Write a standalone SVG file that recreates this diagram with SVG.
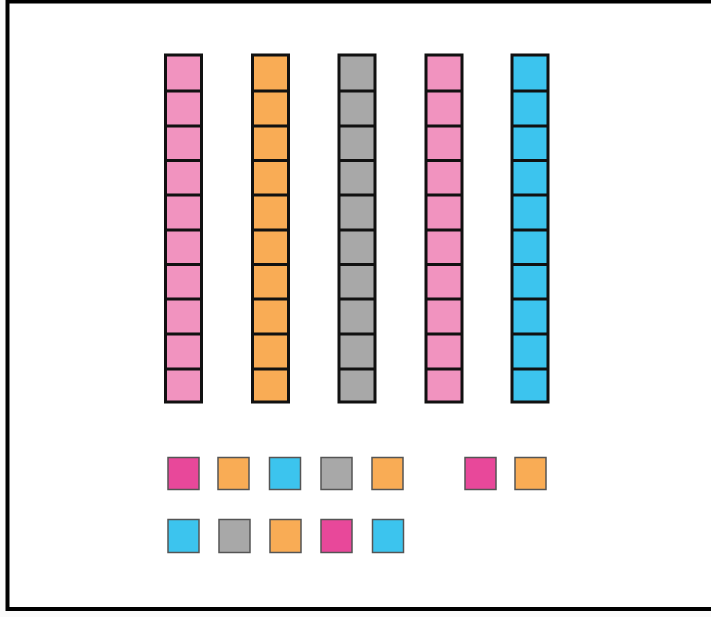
<svg xmlns="http://www.w3.org/2000/svg" width="711" height="617" viewBox="0 0 711 617">
<style>
.col rect{stroke:#111;stroke-width:3}
.sq{stroke:#555;stroke-width:1.5}
.pink{fill:#F193BF}.orange{fill:#F9AC55}.gray{fill:#A8A8A8}.blue{fill:#3CC4EE}.mag{fill:#E8489A}
</style>
<rect x="0" y="0" width="711" height="617" fill="#fafafa"/>
<rect x="7.5" y="1.5" width="706" height="607.5" fill="#fff" stroke="#000" stroke-width="4"/>
<defs>
<g id="lines" stroke="#111" stroke-width="3">
<line x1="0" y1="36" x2="36" y2="36"/><line x1="0" y1="71" x2="36" y2="71"/><line x1="0" y1="105.5" x2="36" y2="105.5"/><line x1="0" y1="140" x2="36" y2="140"/><line x1="0" y1="175" x2="36" y2="175"/><line x1="0" y1="209.5" x2="36" y2="209.5"/><line x1="0" y1="244" x2="36" y2="244"/><line x1="0" y1="279" x2="36" y2="279"/><line x1="0" y1="314" x2="36" y2="314"/>
</g>
</defs>
<g id="col1" class="col" transform="translate(165.5,55)"><rect x="0" y="0" width="36" height="347" class="pink"/><use href="#lines"/></g>
<g id="col2" class="col" transform="translate(252.5,55)"><rect x="0" y="0" width="36" height="347" class="orange"/><use href="#lines"/></g>
<g id="col3" class="col" transform="translate(339,55)"><rect x="0" y="0" width="36" height="347" class="gray"/><use href="#lines"/></g>
<g id="col4" class="col" transform="translate(426,55)"><rect x="0" y="0" width="36" height="347" class="pink"/><use href="#lines"/></g>
<g id="col5" class="col" transform="translate(512,55)"><rect x="0" y="0" width="36" height="347" class="blue"/><use href="#lines"/></g>
<g id="row1">
<rect class="sq mag" x="168" y="457.5" width="31" height="32"/>
<rect class="sq orange" x="218" y="457.5" width="31" height="32"/>
<rect class="sq blue" x="269.5" y="457.5" width="31" height="32"/>
<rect class="sq gray" x="321" y="457.5" width="31" height="32"/>
<rect class="sq orange" x="372" y="457.5" width="31" height="32"/>
<rect class="sq mag" x="465" y="457.5" width="31" height="32"/>
<rect class="sq orange" x="515" y="457.5" width="31" height="32"/>
</g>
<g id="row2">
<rect class="sq blue" x="168" y="519.5" width="31" height="33"/>
<rect class="sq gray" x="219" y="519.5" width="31" height="33"/>
<rect class="sq orange" x="270" y="519.5" width="31" height="33"/>
<rect class="sq mag" x="321" y="519.5" width="31" height="33"/>
<rect class="sq blue" x="372.5" y="519.5" width="31" height="33"/>
</g>
</svg>
